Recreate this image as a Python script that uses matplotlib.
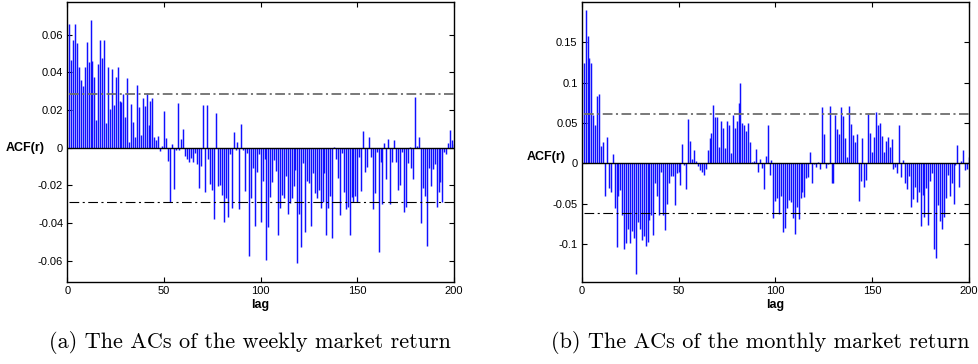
import numpy as np
import matplotlib
matplotlib.use("Agg")
import matplotlib.pyplot as plt
from matplotlib.ticker import FuncFormatter

plt.rcParams['font.family'] = ['Liberation Sans', 'DejaVu Sans']
plt.rcParams['axes.unicode_minus'] = False
plt.rcParams['lines.scale_dashes'] = False

# autocorrelations, lags 1..200
weekly_acf = [
    0.0657, 0.0466, 0.0572, 0.0657, 0.0554, 0.0430, 0.0360, 0.0327, 0.0427, 0.0560,
    0.0453, 0.0676, 0.0460, 0.0375, 0.0147, 0.0444, 0.0572, 0.0474, 0.0572, 0.0133,
    0.0430, 0.0205, 0.0416, 0.0227, 0.0377, 0.0427, 0.0248, 0.0244, 0.0283, 0.0165,
    0.0368, 0.0028, 0.0230, 0.0138, 0.0055, 0.0333, 0.0214, 0.0067, 0.0265, 0.0221,
    0.0292, 0.0120, 0.0250, 0.0262, 0.0058, 0.0042, 0.0062, -0.0018, 0.0010, 0.0196,
    0.0053, -0.0071, -0.0287, 0.0018, -0.0221, -0.0010, 0.0235, -0.0010, 0.0044, 0.0099,
    -0.0042, -0.0062, -0.0074, -0.0057, -0.0074, -0.0027, -0.0087, -0.0212, -0.0096, 0.0227,
    -0.0234, 0.0227, -0.0062, -0.0193, -0.0227, -0.0377, 0.0182, -0.0202, -0.0198, -0.0251,
    -0.0396, -0.0269, -0.0368, -0.0035, -0.0319, 0.0083, -0.0012, 0.0032, -0.0327, 0.0126,
    -0.0010, -0.0228, -0.0030, -0.0573, -0.0269, -0.0106, -0.0414, -0.0127, -0.0035, -0.0396,
    -0.0175, -0.0060, -0.0598, -0.0420, -0.0264, -0.0180, -0.0065, -0.0124, -0.0464, -0.0322,
    -0.0251, -0.0269, -0.0149, -0.0354, -0.0292, -0.0269, -0.0202, -0.0119, -0.0614, -0.0352,
    -0.0529, -0.0083, -0.0446, -0.0177, -0.0189, -0.0414, -0.0136, -0.0242, -0.0269, -0.0225,
    -0.0322, -0.0287, -0.0136, -0.0464, -0.0319, -0.0257, -0.0478, 0.0005, -0.0060, -0.0163,
    -0.0358, -0.0030, -0.0234, -0.0324, -0.0313, -0.0464, -0.0262, -0.0287, -0.0255, -0.0287,
    -0.0050, -0.0228, 0.0088, -0.0127, -0.0101, 0.0055, -0.0048, -0.0326, -0.0239, -0.0021,
    -0.0552, -0.0074, -0.0299, 0.0023, -0.0168, 0.0046, -0.0301, -0.0078, 0.0042, -0.0074,
    -0.0225, -0.0198, -0.0021, -0.0340, -0.0313, -0.0083, 0.0003, -0.0110, -0.0168, 0.0271,
    0.0010, 0.0055, -0.0402, -0.0212, -0.0255, -0.0520, -0.0110, -0.0204, -0.0113, -0.0088,
    -0.0313, -0.0237, -0.0180, -0.0287, -0.0021, -0.0035, 0.0027, 0.0094, 0.0040, 0.0020,
]

monthly_acf = [
    0.124, 0.190, 0.158, 0.131, 0.124, 0.060, 0.048, 0.084, 0.086, 0.022,
    0.026, -0.040, 0.032, -0.031, -0.036, 0.011, -0.055, -0.104, -0.040, -0.033,
    -0.064, -0.106, -0.099, -0.081, -0.099, -0.084, -0.093, -0.137, -0.073, -0.081,
    -0.095, -0.090, -0.103, -0.098, -0.070, -0.064, -0.089, -0.025, -0.041, -0.064,
    -0.011, -0.064, -0.083, -0.051, -0.024, -0.016, -0.016, -0.052, -0.012, -0.011,
    -0.027, 0.024, -0.002, -0.032, 0.055, 0.027, 0.005, 0.016, 0.003, -0.003,
    -0.008, -0.011, -0.015, -0.007, 0.016, 0.031, 0.037, 0.072, 0.057, 0.057,
    0.020, 0.052, 0.044, 0.019, 0.053, 0.048, 0.013, 0.060, 0.044, 0.052,
    0.075, 0.100, 0.050, 0.048, 0.040, 0.050, 0.026, 0.001, 0.003, 0.018,
    -0.011, 0.005, -0.006, -0.032, 0.009, 0.048, -0.015, 0.004, -0.068, -0.047,
    -0.043, -0.063, -0.041, -0.085, -0.080, -0.055, -0.046, -0.048, -0.068, -0.088,
    -0.054, -0.069, -0.043, -0.035, -0.042, -0.018, -0.017, 0.0136, -0.025, -0.001,
    -0.004, 0.001, -0.007, 0.070, 0.036, -0.006, -0.001, 0.071, -0.025, -0.024,
    0.060, 0.043, 0.036, 0.070, 0.059, 0.031, 0.008, 0.071, 0.049, 0.035,
    0.026, 0.036, -0.047, -0.022, 0.031, -0.030, -0.021, 0.061, 0.038, 0.014,
    0.032, 0.063, 0.048, 0.050, 0.034, 0.014, 0.028, 0.032, 0.020, 0.030,
    -0.007, -0.005, -0.012, 0.048, -0.017, 0.004, -0.024, -0.032, -0.016, -0.054,
    -0.044, -0.029, -0.048, -0.036, -0.078, -0.039, -0.066, -0.031, -0.077, -0.022,
    -0.012, -0.106, -0.118, -0.052, -0.072, -0.082, -0.067, -0.043, -0.015, -0.041,
    -0.024, -0.050, -0.002, 0.023, -0.030, 0.003, 0.016, -0.008, -0.007, 0.0075,
]

weekly_band = 0.0287
monthly_band = 0.0615
weekly_yticks = [-0.06, -0.04, -0.02, 0, 0.02, 0.04, 0.06]
monthly_yticks = [-0.1, -0.05, 0, 0.05, 0.1, 0.15]
xticks = [0, 50, 100, 150, 200]
captions = ["(a) The ACs of the weekly market return",
            "(b) The ACs of the monthly market return"]

W, H = 979, 364
fig = plt.figure(figsize=(W / 100, H / 100), dpi=100)
ax1 = fig.add_axes([67.3 / W, (H - 281.7) / H, 386.7 / W, 280 / H])
ax2 = fig.add_axes([581.7 / W, (H - 281.7) / H, 387.3 / W, 280 / H])


def draw(ax, acf, band, ylim, yticks, ylab_x, ylab_y):
    lags = np.arange(1, len(acf) + 1)
    ax.vlines(lags, 0, acf, colors='#1010ff', linewidth=1.05, zorder=2)
    ax.axhline(0, color='black', linewidth=1.0, zorder=3)
    up, = ax.plot([1, 200], [band, band], color='#6e6e6e', linewidth=1.3, zorder=4)
    lo, = ax.plot([1, 200], [-band, -band], color='black', linewidth=0.8, zorder=4)
    up.set_dashes([7, 2.5, 1.5, 2.5])
    lo.set_dashes([7, 2.5, 1.5, 2.5])
    ax.set_xlim(0, 200)
    ax.set_ylim(*ylim)
    ax.set_xticks(xticks)
    ax.set_yticks(yticks)
    ax.yaxis.set_major_formatter(FuncFormatter(lambda v, p: '%g' % v))
    ax.tick_params(direction='in', top=True, right=True, length=3.5,
                   width=0.8, labelsize=8, pad=3)
    for s in ax.spines.values():
        s.set_linewidth(1.0)
    ax.set_xlabel('lag', fontsize=9, fontweight='bold')
    ax.xaxis.set_label_coords(0.5, -0.083)
    ax.xaxis.label.set_va('center')
    ax.set_ylabel('ACF(r)', fontsize=9, fontweight='bold', rotation=0,
                  ha='right', va='center')
    ax.yaxis.set_label_coords(ylab_x, ylab_y)


draw(ax1, weekly_acf, weekly_band, (-0.0712, 0.0775), weekly_yticks, -0.0577, 0.4775)
draw(ax2, monthly_acf, monthly_band, (-0.1468, 0.2003), monthly_yticks, -0.0405, 0.445)

fig.text(250 / W, (H - 343) / H, captions[0], fontfamily='cmr10', fontsize=16,
         ha='center', va='center')
fig.text(760 / W, (H - 343) / H, captions[1], fontfamily='cmr10', fontsize=16,
         ha='center', va='center')

fig.savefig('out.png', dpi=100)
